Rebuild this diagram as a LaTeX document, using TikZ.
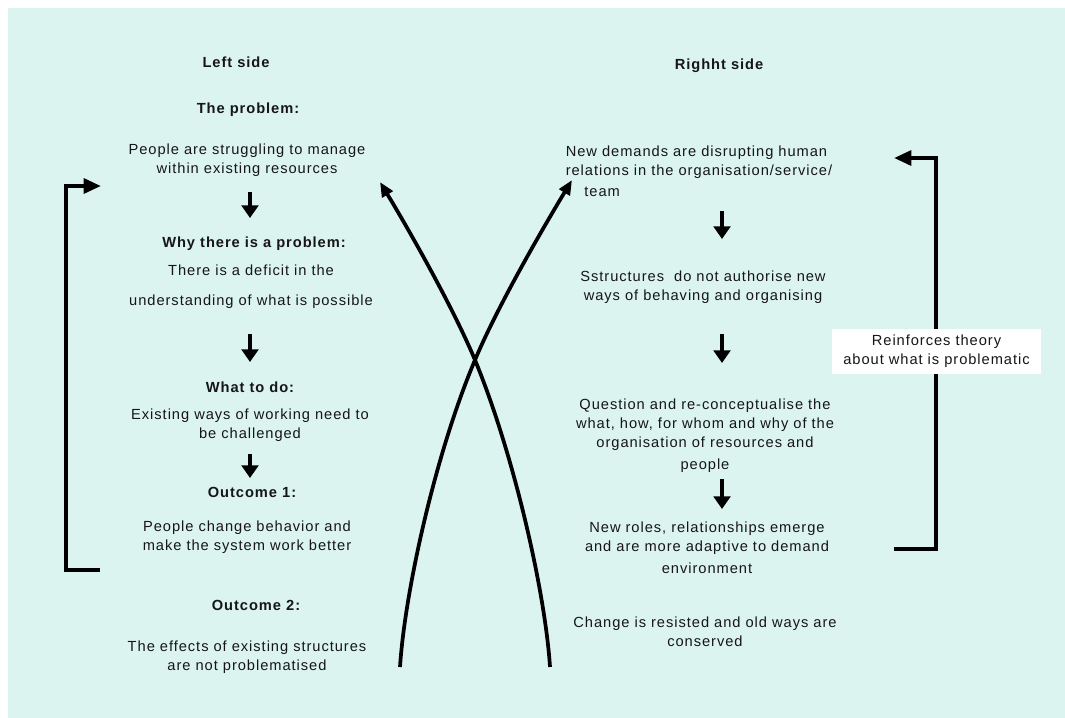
\documentclass[tikz,border=0pt]{standalone}
\usepackage{fontspec}
\setmainfont{Liberation Sans}[LetterSpace=6.5]
\usetikzlibrary{arrows.meta}
\definecolor{mint}{RGB}{220,244,240}
\definecolor{ink}{RGB}{22,22,22}

\begin{document}
\begin{tikzpicture}[x=0.75pt,y=-0.75pt,
  txt/.style={text=ink, align=center, inner sep=0pt,
    font=\fontsize{11}{14.25}\selectfont},
  hd/.style={txt, font=\fontsize{11}{14.25}\selectfont\bfseries},
  stepdown/.style={line width=3.2pt, -{Triangle[length=9.5pt,width=12.5pt]}},
  bracket/.style={line width=3pt, line join=miter,
    -{Triangle[length=13pt,width=11pt]}},
  cross/.style={line width=2.8pt, -{Triangle[length=11pt,width=9pt]}},
  note/.style={txt, fill=white, minimum width=156.75pt, minimum height=33.75pt},
]
\useasboundingbox (0,0) rectangle (1065,718);
\fill[white] (0,0) rectangle (1065,718);
\fill[mint] (8,8) rectangle (1065,718);

% ---------- left column ----------
\node[hd]  (lside) at (236,62)    {Left side};
\node[hd]  (lh1)   at (248,110)   {The problem:};
\node[txt] (l1)    at (247,160.5) {People are struggling to manage\\ within existing resources};
\node[hd]  (lh2)   at (254,244)   {Why there is a problem:};
\node[txt] (l2)    at (251,287)   {There is a deficit in the\\[8pt] understanding of what is possible};
\node[hd]  (lh3)   at (250,387)   {What to do:};
\node[txt] (l3)    at (250,425)   {Existing ways of working need to\\ be challenged};
\node[hd]  (lh4)   at (252,492)   {Outcome 1:};
\node[txt] (l4)    at (247,537.5) {People change behavior and\\ make the system work better};
\node[hd]  (lh5)   at (256,605)   {Outcome 2:};
\node[txt] (l5)    at (247,657.5) {The effects of existing structures\\ are not problematised};

% ---------- right column ----------
\node[hd]  (rside) at (719,66)    {Righht side};
\node[txt, align=left] (r1) at (699,171)
  {New demands are disrupting human\\ relations in the organisation/service/\\[1.5pt] \hspace*{14pt}team};
\node[txt] (r2)    at (703,287.5) {Sstructures\ \ do not authorise new\\ ways of behaving and organising};
\node[txt] (r3)    at (705,436)   {Question and re-conceptualise the\\ what, how, for whom and why of the\\ organisation of resources and\\[2pt] people};
\node[txt] (r4)    at (707,548)   {New roles, relationships emerge\\ and are more adaptive to demand\\[2pt] environment};
\node[txt] (r5)    at (705,631.5) {Change is resisted and old ways are\\ conserved};

% ---------- step arrows ----------
\coordinate (la1) at (250,192); \coordinate (lb1) at (250,218);
\coordinate (la2) at (250,334); \coordinate (lb2) at (250,362);
\coordinate (la3) at (250,454); \coordinate (lb3) at (250,478);
\coordinate (ra1) at (722,211); \coordinate (rb1) at (722,239);
\coordinate (ra2) at (722,334); \coordinate (rb2) at (722,363);
\coordinate (ra3) at (722,479); \coordinate (rb3) at (722,509);
\foreach \a/\b in {la1/lb1, la2/lb2, la3/lb3, ra1/rb1, ra2/rb2, ra3/rb3}
  \draw[stepdown] (\a) -- (\b);

% ---------- feedback brackets ----------
\coordinate (lbs) at (100,570); \coordinate (lbc1) at (66,570);
\coordinate (lbc2) at (66,186); \coordinate (lbe) at (101,186);
\draw[bracket] (lbs) -- (lbc1) -- (lbc2) -- (lbe);

\coordinate (rbs) at (894,549); \coordinate (rbc1) at (936,549);
\coordinate (rbc2) at (936,158); \coordinate (rbe) at (894,158);
\draw[bracket] (rbs) -- (rbc1) -- (rbc2) -- (rbe);

\node[note] (reinf) at (936.5,351.5)
  {Reinforces theory\\ about what is problematic};

% ---------- crossing arrows ----------
\coordinate (xa) at (550,667); \coordinate (xb) at (400,667);
\coordinate (xm) at (475,360);
\coordinate (ta) at (380,182); \coordinate (tb) at (572,180);
\draw[cross] (xa) .. controls (545,590) and (513,452) .. (xm)
                  .. controls (452,305) and (406,225) .. (ta);
\draw[cross] (xb) .. controls (405,590) and (436,452) .. (xm)
                  .. controls (498,305) and (546,223) .. (tb);
\end{tikzpicture}
\end{document}
